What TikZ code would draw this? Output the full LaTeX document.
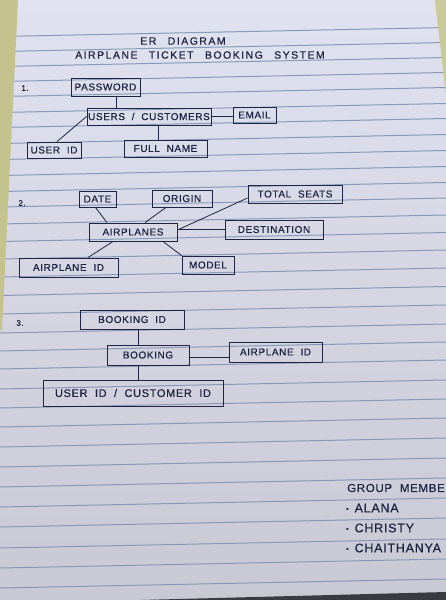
\documentclass[tikz,border=0pt]{standalone}
\usepackage{fontspec}
\newfontfamily\hand[LetterSpace=6,WordSpace=2,FakeBold=0.6]{Liberation Sans}
\newfontfamily\handwide[LetterSpace=14,WordSpace=2.6,FakeBold=0.6]{Liberation Sans}
\usetikzlibrary{calc}
\definecolor{ink}{HTML}{1F2442}
\definecolor{paperTop}{HTML}{E1E2F0}
\definecolor{paperBot}{HTML}{C8C9D3}
\definecolor{rule}{HTML}{8898B8}
\definecolor{desk}{HTML}{C4C38D}
\definecolor{shadow}{HTML}{3A3A42}
\tikzset{
  ent/.style={draw=ink, line width=0.9pt, inner sep=0pt, text=ink,
    font=\hand\fontsize{10}{12}\selectfont},
  lbl/.style={inner sep=0pt, text=ink, font=\handwide\fontsize{10.5}{12}\selectfont},
  grp/.style={inner sep=0pt, text=ink, font=\hand\fontsize{12.5}{14}\selectfont},
  num/.style={inner sep=0pt, text=ink, font=\hand\fontsize{8}{10}\selectfont},
  link/.style={draw=ink, line width=0.8pt},
}
\newcommand{\dotmark}{{\fontsize{7}{8}\selectfont\raisebox{1pt}{•}}\hspace{6pt}}
\begin{document}
\begin{tikzpicture}[x=1pt,y=-1pt]
\useasboundingbox (0,0) rectangle (446,600);
\clip (0,0) rectangle (446,600);

% ruled notebook page
\shade[top color=paperTop, bottom color=paperBot] (0,0) rectangle (446,600);
\foreach \L in {36.5,51.5,66.5,81.5,96.5,112.5,127.5,143.5,159.5,175.5,191.5,207,224,241.5,259,277,295.5,314,333,351,369,389,408,427,447,467,487,507,527,548,568,588}
  \draw[rule, line width=1pt] (0,\L) -- (446,\L-9);

% desk showing past the page edges
\fill[desk] (0,0) -- (18,0) -- (2,330) -- (0,330) -- cycle;
\fill[desk!90!white] (435,0) -- (446,0) -- (446,95) -- cycle;
\fill[shadow] (140,600) -- (446,592) -- (446,600) -- cycle;

% headings
\node[lbl] (t1) at (183,41) {ER DIAGRAM};
\node[lbl] (t2) at (200,55) {AIRPLANE TICKET BOOKING SYSTEM};

% 1. users / customers
\node[num] (n1) at (25,88) {1.};
\node[ent, minimum width=69pt, minimum height=18pt] (pw) at (105.5,87) {PASSWORD};
\node[ent, minimum width=124pt, minimum height=17pt] (uc) at (149,116.5) {USERS / CUSTOMERS};
\node[ent, minimum width=43pt, minimum height=16pt] (em) at (254.5,115) {EMAIL};
\node[ent, minimum width=54pt, minimum height=16pt] (uid) at (54,150) {USER ID};
\node[ent, minimum width=83pt, minimum height=17pt] (fn) at (165.5,148.5) {FULL NAME};

\draw[link] ([xshift=10.5pt]pw.south) -- ([xshift=10.5pt]pw.south |- uc.north);
\draw[link] (uc.east) -- (uc.east -| em.west);
\draw[link] ([xshift=9pt]uc.south) -- ([xshift=9pt]uc.south |- fn.north);
\draw[link] ([xshift=3pt]uid.north) -- (uc.west);

% 2. airplanes
\node[num] (n2) at (22,203) {2.};
\node[ent, minimum width=37pt, minimum height=16pt] (dt) at (97.5,199) {DATE};
\node[ent, minimum width=60pt, minimum height=17pt] (or) at (182,198.5) {ORIGIN};
\node[ent, minimum width=94pt, minimum height=18pt] (ts) at (295,194) {TOTAL SEATS};
\node[ent, minimum width=88pt, minimum height=18pt] (ap) at (133,232) {AIRPLANES};
\node[ent, minimum width=98pt, minimum height=19pt] (ds) at (274,229.5) {DESTINATION};
\node[ent, minimum width=99pt, minimum height=19pt] (aid) at (68.5,267.5) {AIRPLANE ID};
\node[ent, minimum width=52pt, minimum height=18pt] (md) at (208,265) {MODEL};

\draw[link] ([xshift=-2pt]dt.south) -- ([xshift=-26pt]ap.north);
\draw[link] ([xshift=-16pt]or.south) -- ([xshift=12pt]ap.north);
\draw[link] ([yshift=-4pt]ts.west) -- ([yshift=2pt]ap.east);
\draw[link] (ds.west) -- (ds.west -| ap.east);
\draw[link] ([xshift=19.5pt]aid.north) -- ([xshift=-20pt]ap.south);
\draw[link] (md.north west) -- ([xshift=30pt]ap.south);

% 3. booking
\node[num] (n3) at (20,323) {3.};
\node[ent, minimum width=104pt, minimum height=19pt] (bid) at (132,319.5) {BOOKING ID};
\node[ent, minimum width=82pt, minimum height=20pt] (bk) at (148,355) {BOOKING};
\node[ent, minimum width=93pt, minimum height=20pt] (bap) at (275.5,352) {AIRPLANE ID};
\node[ent, minimum width=180pt, minimum height=26pt, font=\hand\fontsize{11}{13}\selectfont] (bcu) at (133,393) {USER ID / CUSTOMER ID};

\draw[link] ([xshift=6pt]bid.south) -- ([xshift=6pt]bid.south |- bk.north);
\draw[link] ([yshift=-2pt]bk.east) -- ([yshift=-2pt]bk.east -| bap.west);
\draw[link] ([xshift=-10pt]bk.south) -- ([xshift=-10pt]bk.south |- bcu.north);

% group members
\node[grp, anchor=west, font=\hand\fontsize{11.5}{13}\selectfont] (gm) at (347,488) {GROUP MEMBERS};
\node[grp, anchor=west] (m1) at (346,508) {\dotmark ALANA};
\node[grp, anchor=west] (m2) at (346,528) {\dotmark CHRISTY};
\node[grp, anchor=west] (m3) at (346,548) {\dotmark CHAITHANYA};
\end{tikzpicture}
\end{document}
